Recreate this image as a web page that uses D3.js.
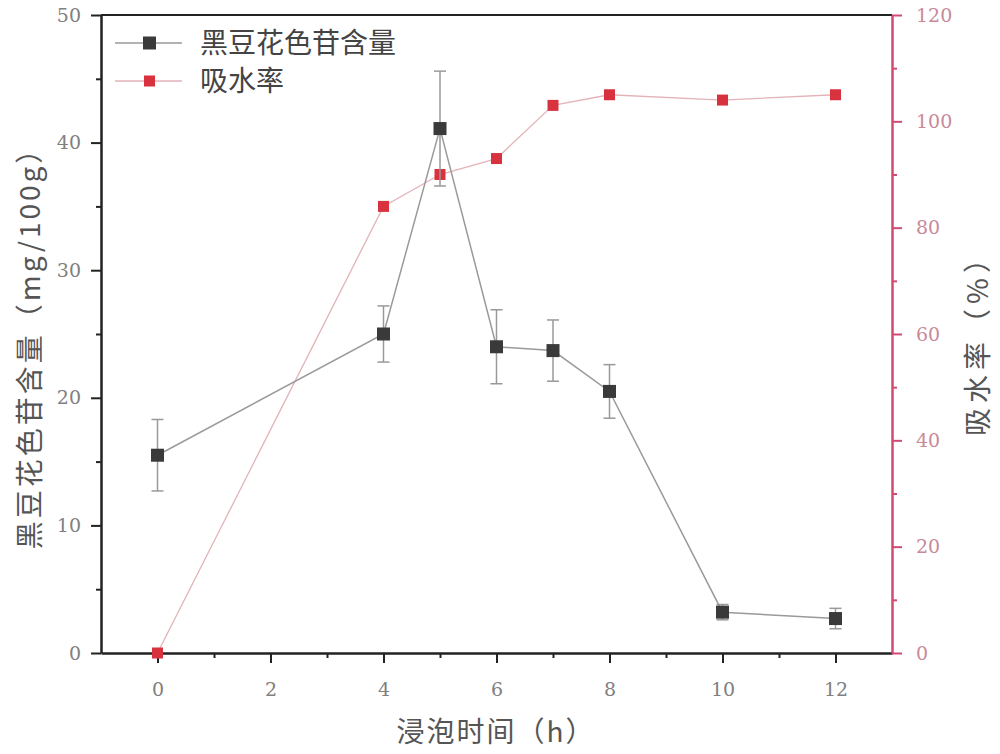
<!DOCTYPE html>
<html><head><meta charset="utf-8">
<script src="https://cdn.jsdelivr.net/npm/d3@7"></script>
<style>body{margin:0;background:#fff}</style>
</head><body>
<svg id="c" width="1000" height="754"></svg>
<script>
const hours = [0, 4, 5, 6, 7, 8, 10, 12];
const anthocyanin = [15.5, 25.0, 41.1, 24.0, 23.7, 20.5, 3.2, 2.7];
const anthoErr = [2.8, 2.2, 4.5, 2.9, 2.4, 2.1, 0.6, 0.8];
const absorption = [0, 84, 90, 93, 103, 105, 104, 105];
const xTicks = [0, 2, 4, 6, 8, 10, 12];
const leftTicks = [0, 10, 20, 30, 40, 50];
const rightTicks = [0, 20, 40, 60, 80, 100, 120];
const seriesNames = ["黑豆花色苷含量", "吸水率"];

const svg = d3.select("#c");
const L = 101, R = 892, T = 15, B = 653;
const x = d3.scaleLinear().domain([-1, 13]).range([L, R]);
const yL = d3.scaleLinear().domain([0, 50]).range([B, T]);
const yR = d3.scaleLinear().domain([0, 120]).range([B, T]);
const serif = "'DejaVu Serif','Liberation Serif',serif";
const cjk = "'Noto Sans CJK SC','Noto Sans',sans-serif";
const red = "#d9323f", pink = "#d24a72";

// top frame
svg.append("line").attr("x1", L).attr("x2", R).attr("y1", T).attr("y2", T).attr("stroke", "#222").attr("stroke-width", 2);

// bottom axis
const gx = svg.append("g").attr("transform", `translate(0,${B})`)
  .call(d3.axisBottom(x).tickValues(xTicks).tickSize(10).tickPadding(20).tickSizeOuter(0));
svg.append("g").attr("class","minor").attr("transform", `translate(0,${B})`)
  .call(d3.axisBottom(x).tickValues([1,3,5,7,9,11]).tickSize(5).tickFormat("").tickSizeOuter(0))
  .select(".domain").remove();
// left axis
const gl = svg.append("g").attr("transform", `translate(${L},0)`)
  .call(d3.axisLeft(yL).tickValues(leftTicks).tickSize(10).tickPadding(10).tickSizeOuter(0));
svg.append("g").attr("class","minor").attr("transform", `translate(${L},0)`)
  .call(d3.axisLeft(yL).tickValues([5,15,25,35,45]).tickSize(5).tickFormat("").tickSizeOuter(0))
  .select(".domain").remove();
// right axis
const gr = svg.append("g").attr("transform", `translate(${R},0)`)
  .call(d3.axisRight(yR).tickValues(rightTicks).tickSize(10).tickPadding(14).tickSizeOuter(0));
svg.append("g").attr("class","rminor").attr("transform", `translate(${R},0)`)
  .call(d3.axisRight(yR).tickValues([10,30,50,70,90,110]).tickSize(5).tickFormat("").tickSizeOuter(0))
  .select(".domain").remove();

[gx, gl].forEach(g => {
  g.select(".domain").attr("stroke", "#222").attr("stroke-width", 2.5);
  g.selectAll(".tick line").attr("stroke", "#222").attr("stroke-width", 2);
  g.selectAll("text").attr("fill", "#808080").attr("font-family", serif).attr("font-size", 19);
});
svg.selectAll(".minor .tick line").attr("stroke","#222").attr("stroke-width",2);
gr.select(".domain").attr("stroke", pink).attr("stroke-width", 2.5);
gr.selectAll(".tick line").attr("stroke", pink).attr("stroke-width", 2);
gr.selectAll("text").attr("fill", "#c88a9a").attr("font-family", serif).attr("font-size", 19);
svg.selectAll(".rminor .tick line").attr("stroke", pink).attr("stroke-width", 2);

// water absorption series
const lineR = d3.line().x((d, i) => x(hours[i])).y(d => yR(d));
svg.append("path").attr("d", lineR(absorption)).attr("fill", "none").attr("stroke", "#e3b3b8").attr("stroke-width", 1.3);
svg.selectAll(".rp").data(absorption).join("rect")
  .attr("x", (d, i) => x(hours[i]) - 5.5).attr("y", d => yR(d) - 5.5)
  .attr("width", 11).attr("height", 11).attr("fill", red);

// anthocyanin series
const lineL = d3.line().x((d, i) => x(hours[i])).y(d => yL(d));
svg.append("path").attr("d", lineL(anthocyanin)).attr("fill", "none").attr("stroke", "#9a9a9a").attr("stroke-width", 1.5);
const eb = svg.append("g").attr("stroke", "#999").attr("stroke-width", 1.5);
anthocyanin.forEach((v, i) => {
  const cx = x(hours[i]), y1 = yL(v + anthoErr[i]), y2 = yL(v - anthoErr[i]);
  eb.append("line").attr("x1", cx).attr("x2", cx).attr("y1", y1).attr("y2", y2);
  eb.append("line").attr("x1", cx - 6).attr("x2", cx + 6).attr("y1", y1).attr("y2", y1);
  eb.append("line").attr("x1", cx - 6).attr("x2", cx + 6).attr("y1", y2).attr("y2", y2);
});
svg.selectAll(".bp").data(anthocyanin).join("rect")
  .attr("x", (d, i) => x(hours[i]) - 6.5).attr("y", d => yL(d) - 6.5)
  .attr("width", 13).attr("height", 13).attr("fill", "#3a3a3a");

// legend
const leg = [{c: "#3a3a3a", l: "#9a9a9a", y: 43, s: 13}, {c: red, l: "#e3b3b8", y: 81, s: 11}];
leg.forEach((d, i) => {
  svg.append("line").attr("x1", 115).attr("x2", 182).attr("y1", d.y).attr("y2", d.y).attr("stroke", d.l).attr("stroke-width", 1.5);
  svg.append("rect").attr("x", 149.5 - d.s / 2).attr("y", d.y - d.s / 2).attr("width", d.s).attr("height", d.s).attr("fill", d.c);
  svg.append("text").attr("x", 200).attr("y", d.y + 10).text(seriesNames[i])
    .attr("font-family", cjk).attr("font-size", 28).attr("fill", "#444");
});

// axis titles
svg.append("text").attr("x", 496).attr("y", 742).attr("text-anchor", "middle")
  .attr("font-family", cjk).attr("font-size", 28).attr("letter-spacing", 2).attr("fill", "#555").text("浸泡时间（h）");
svg.append("text").attr("transform", "translate(40,341) rotate(-90)").attr("text-anchor", "middle")
  .attr("font-family", cjk).attr("font-size", 28).attr("letter-spacing", 3).attr("fill", "#555").text("黑豆花色苷含量（mg/100g）");
svg.append("text").attr("transform", "translate(988,338) rotate(-90)").attr("text-anchor", "middle")
  .attr("font-family", cjk).attr("font-size", 28).attr("letter-spacing", 5).attr("fill", "#555").text("吸水率（%）");
</script>
</body></html>
